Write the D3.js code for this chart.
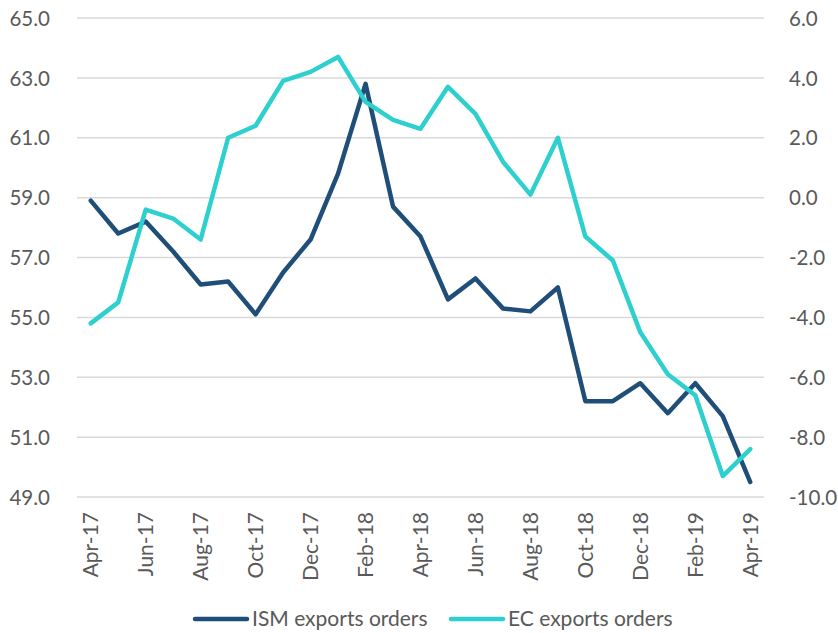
<!DOCTYPE html>
<html>
<head>
<meta charset="utf-8">
<script src="https://cdn.jsdelivr.net/npm/d3@7"></script>
<style>
  body { margin: 0; background: #fff; }
  text { font-family: Lato, "Open Sans", sans-serif; fill: #595959; }
</style>
</head>
<body>
<div id="chart"></div>
<script>
const months = [
  "Apr-17", "May-17", "Jun-17", "Jul-17", "Aug-17", "Sep-17", "Oct-17", "Nov-17", "Dec-17",
  "Jan-18", "Feb-18", "Mar-18", "Apr-18", "May-18", "Jun-18", "Jul-18", "Aug-18", "Sep-18",
  "Oct-18", "Nov-18", "Dec-18", "Jan-19", "Feb-19", "Mar-19", "Apr-19",
];
const ismExports = [
  58.9, 57.8, 58.2, 57.2, 56.1, 56.2, 55.1, 56.5, 57.6,
  59.8, 62.8, 58.7, 57.7, 55.6, 56.3, 55.3, 55.2, 56.0,
  52.2, 52.2, 52.8, 51.8, 52.8, 51.7, 49.5,
];
const ecExports = [
  -4.2, -3.5, -0.4, -0.7, -1.4, 2.0, 2.4, 3.9, 4.2,
  4.7, 3.2, 2.6, 2.3, 3.7, 2.8, 1.2, 0.1, 2.0,
  -1.3, -2.1, -4.5, -5.9, -6.6, -9.3, -8.4,
];
const leftTicks = [49, 51, 53, 55, 57, 59, 61, 63, 65];
const rightTicks = [-10, -8, -6, -4, -2, 0, 2, 4, 6];

const width = 838;
const height = 633;
const margin = { top: 18, right: 74, bottom: 136, left: 77 };

const svg = d3
  .select("#chart")
  .append("svg")
  .attr("width", width)
  .attr("height", height);

const x = d3
  .scaleBand()
  .domain(months)
  .range([margin.left, width - margin.right]);

const yLeft = d3
  .scaleLinear()
  .domain([49, 65])
  .range([height - margin.bottom, margin.top]);

const yRight = d3
  .scaleLinear()
  .domain([-10, 6])
  .range([height - margin.bottom, margin.top]);

const xc = (d) => x(d) + x.bandwidth() / 2;

// gridlines
svg
  .append("g")
  .selectAll("line")
  .data(leftTicks)
  .join("line")
  .attr("x1", margin.left)
  .attr("x2", width - margin.right)
  .attr("y1", (d) => yLeft(d))
  .attr("y2", (d) => yLeft(d))
  .attr("stroke", "#d9d9d9")
  .attr("stroke-width", 1.5);

const leftAxis = svg
  .append("g")
  .attr("transform", `translate(${margin.left - 24},0)`)
  .call(d3.axisLeft(yLeft).tickValues(leftTicks).tickSize(0).tickFormat(d3.format(".1f")));
leftAxis.select(".domain").remove();
leftAxis.selectAll("text").attr("font-size", 20.5).attr("dy", "0.35em");

const rightAxis = svg
  .append("g")
  .attr("transform", `translate(${width - margin.right + 22},0)`)
  .call(
    d3.axisRight(yRight).tickValues(rightTicks).tickSize(0)
      .tickFormat((d) => d3.format(".1f")(d).replace("−", "-"))
  );
rightAxis.select(".domain").remove();
rightAxis.selectAll("text").attr("font-size", 20.5).attr("dy", "0.35em");

const xAxis = svg
  .append("g")
  .attr("transform", `translate(0,${height - margin.bottom})`)
  .call(
    d3.axisBottom(x)
      .tickValues(months.filter((d, i) => i % 2 === 0))
      .tickSize(0)
  );
xAxis.select(".domain").remove();
xAxis
  .selectAll("text")
  .attr("font-size", 21)
  .attr("text-anchor", "end")
  .attr("transform", "rotate(-90)")
  .attr("x", -15)
  .attr("y", 0)
  .attr("dy", "0.35em");

const lineLeft = d3
  .line()
  .x((d, i) => xc(months[i]))
  .y((d) => yLeft(d));

const lineRight = d3
  .line()
  .x((d, i) => xc(months[i]))
  .y((d) => yRight(d));

svg
  .append("path")
  .datum(ismExports)
  .attr("fill", "none")
  .attr("stroke", "#1f4e79")
  .attr("stroke-width", 4.5)
  .attr("stroke-linejoin", "round")
  .attr("stroke-linecap", "round")
  .attr("d", lineLeft);

svg
  .append("path")
  .datum(ecExports)
  .attr("fill", "none")
  .attr("stroke", "#2ecfcf")
  .attr("stroke-width", 4.5)
  .attr("stroke-linejoin", "round")
  .attr("stroke-linecap", "round")
  .attr("d", lineRight);

// legend
const legend = svg
  .append("g")
  .selectAll("g")
  .data([
    { name: "ISM exports orders", color: "#1f4e79", x: 195 },
    { name: "EC exports orders", color: "#2ecfcf", x: 451 },
  ])
  .join("g")
  .attr("transform", (d) => `translate(${d.x},619)`);

legend
  .append("line")
  .attr("x1", 0)
  .attr("x2", 52)
  .attr("stroke", (d) => d.color)
  .attr("stroke-width", 4.5)
  .attr("stroke-linecap", "round");

legend
  .append("text")
  .attr("x", 57)
  .attr("dy", "0.35em")
  .attr("font-size", 21)
  .text((d) => d.name);
</script>
</body>
</html>
